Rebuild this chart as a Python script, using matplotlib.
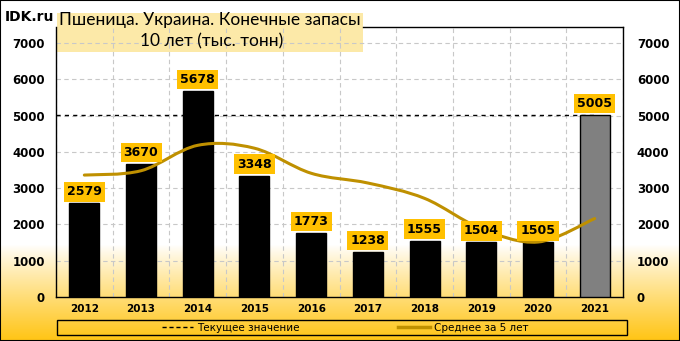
import numpy as np
import matplotlib.pyplot as plt
from matplotlib.path import Path
from matplotlib.patches import PathPatch, Rectangle
from matplotlib.lines import Line2D

years = ['2012', '2013', '2014', '2015', '2016', '2017', '2018', '2019', '2020', '2021']
stocks = [2579, 3670, 5678, 3348, 1773, 1238, 1555, 1504, 1505, 5005]
mean5 = [3360, 3480, 4180, 4100, 3410, 3141, 2718, 1884, 1515, 2161]
current = 5005

W, H = 680, 341
fig = plt.figure(figsize=(W / 100, H / 100), dpi=100)

# background gradient: white top, yellow towards the bottom
bg = fig.add_axes([0, 0, 1, 1], zorder=-2)
bg.axis('off')
t = np.linspace(0, 1, H)
start = 245 / H
k = np.clip((t - start) / (1 - start), 0, 1) ** 0.9
c0 = np.array([1.0, 1.0, 1.0])
c1 = np.array([1.0, 0.77, 0.08])
grad = c0[None, :] * (1 - k[:, None]) + c1[None, :] * k[:, None]
bg.imshow(grad[:, None, :], aspect='auto', extent=[0, 1, 1, 0])
bg.set_xlim(0, 1)
bg.set_ylim(1, 0)

ax = fig.add_axes([56 / W, 1 - 297 / H, (623 - 56) / W, (297 - 27) / H])
ax.set_facecolor('none')
x = np.arange(len(years))

colors = ['black'] * (len(years) - 1) + ['#808080']
ax.bar(x, stocks, width=0.53, color=colors, edgecolor='black', linewidth=1, zorder=3)

ax.hlines(current, -0.5, x[-1], color='black', linestyle=(0, (3, 3)), linewidth=1, zorder=2)

# smooth line through the 5-year mean (Catmull-Rom as Bezier)
pts = np.column_stack([x, mean5]).astype(float)
verts = [tuple(pts[0])]
codes = [Path.MOVETO]
for i in range(len(pts) - 1):
    p0 = pts[max(i - 1, 0)]
    p1 = pts[i]
    p2 = pts[i + 1]
    p3 = pts[min(i + 2, len(pts) - 1)]
    verts += [tuple(p1 + (p2 - p0) / 6), tuple(p2 - (p3 - p1) / 6), tuple(p2)]
    codes += [Path.CURVE4] * 3
ax.add_patch(PathPatch(Path(verts, codes), facecolor='none', edgecolor='#BF9000',
                       linewidth=2.2, zorder=4, capstyle='round'))
mean_handle = Line2D([], [], color='#BF9000', linewidth=2.5)

for xi, v in zip(x, stocks):
    ax.annotate(str(v), (xi, v), xytext=(0, 5), textcoords='offset pixels',
                ha='center', va='bottom', fontsize=9, fontweight='bold', zorder=6,
                bbox=dict(boxstyle='square,pad=0.25', facecolor='#FFC000', edgecolor='none'))

ax.set_xlim(-0.5, len(years) - 0.5)
ax.set_ylim(0, 7440)
ax.set_yticks(range(0, 8000, 1000))
ax.set_xticks(x)
ax.set_xticklabels(years, fontsize=7.5, fontweight='bold')
ax.set_xticks(np.arange(-0.5, len(years), 1), minor=True)
ax.tick_params(axis='x', which='both', length=0, pad=5)
ax.tick_params(axis='y', length=0, pad=8, labelsize=8.5)
for lab in ax.get_yticklabels():
    lab.set_fontweight('bold')
ax.grid(axis='y', which='major', color='#C8C8C8', linestyle=(0, (4, 3)), linewidth=0.8)
ax.grid(axis='x', which='minor', color='#C8C8C8', linestyle=(0, (4, 3)), linewidth=0.8)
ax.set_axisbelow(True)
for s in ax.spines.values():
    s.set_color('black')
    s.set_linewidth(1)
ax.spines['top'].set_bounds(-0.5 + (363 - 56) / 56.7, len(years) - 0.5)

ax2 = ax.twinx()
ax2.set_ylim(ax.get_ylim())
ax2.set_yticks(range(0, 8000, 1000))
ax2.tick_params(axis='y', length=0, pad=10, labelsize=8.5)
for lab in ax2.get_yticklabels():
    lab.set_fontweight('bold')
for s in ax2.spines.values():
    s.set_visible(False)

# title box
fig.patches.append(Rectangle((57 / W, 1 - 52 / H), (363 - 57) / W, (52 - 13) / H,
                             transform=fig.transFigure, facecolor='#FCE9A8',
                             edgecolor='none', zorder=-1))
fig.text(210 / W, 1 - 19.5 / H, 'Пшеница. Украина. Конечные запасы', ha='center', va='center',
         fontsize=12.5, family='Lato')
fig.text(212 / W, 1 - 41 / H, '10 лет (тыс. тонн)', ha='center', va='center',
         fontsize=12.5, family='Lato')
fig.text(5 / W, 1 - 17 / H, 'IDK.ru', ha='left', va='center', fontsize=10, fontweight='bold')

# legend box
fig.patches.append(Rectangle((57 / W, 1 - 335 / H), (627 - 57) / W, (335 - 320) / H,
                             transform=fig.transFigure, facecolor='none',
                             edgecolor='black', linewidth=1))
dash_handle = Line2D([], [], color='black', linestyle=(0, (3, 2)), linewidth=1)
fig.legend([dash_handle, mean_handle], ['Текущее значение', 'Среднее за 5 лет'],
           loc='center', bbox_to_anchor=(345 / W, 1 - 328 / H), ncol=2, frameon=False,
           fontsize=7.5, columnspacing=9.5, handlelength=3.0, handletextpad=0.4,
           borderpad=0, borderaxespad=0)

# outer frame
fig.patches.append(Rectangle((0, 0), 1, 1, transform=fig.transFigure, facecolor='none',
                             edgecolor='black', linewidth=1.5))

fig.savefig('out.png', dpi=100)
